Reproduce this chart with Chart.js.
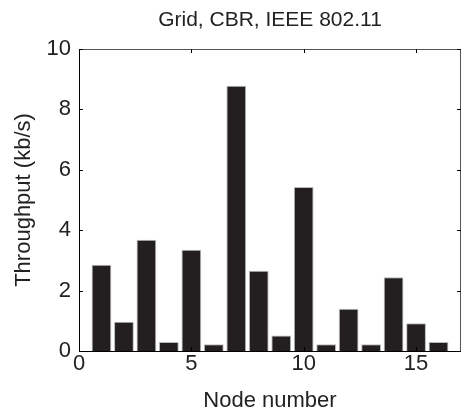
<!DOCTYPE html>
<html>
<head>
<meta charset="utf-8">
<script src="https://cdn.jsdelivr.net/npm/chart.js@4/dist/chart.umd.min.js"></script>
<style>
  html, body { margin: 0; padding: 0; background: #fff; }
  #wrap { width: 462px; height: 416px; }
</style>
</head>
<body>
<div id="wrap"><canvas id="barChart"></canvas></div>
<script>
// node ids and throughput values
const nodes = [1, 2, 3, 4, 5, 6, 7, 8, 9, 10, 11, 12, 13, 14, 15, 16];
const throughput = [2.86, 0.97, 3.68, 0.30, 3.35, 0.22, 8.78, 2.66, 0.51, 5.43, 0.22, 1.40, 0.22, 2.44, 0.92, 0.30];
const xTicks = [0, 5, 10, 15];
const yTicks = [0, 2, 4, 6, 8, 10];
const chartTitle = 'Grid, CBR, IEEE 802.11';

const FONT = 'Liberation Sans, Arial, sans-serif';

// matlab style box with inward ticks, title centred over the axes
const boxPlugin = {
    id: 'box',
    afterDraw(chart) {
        const c = chart.ctx, a = chart.chartArea;
        const xs = chart.scales.x, ys = chart.scales.y;
        c.save();
        c.lineWidth = 1;
        c.strokeStyle = '#555';
        c.beginPath();
        c.moveTo(a.left, a.top + 0.5); c.lineTo(a.right, a.top + 0.5);
        c.moveTo(a.right - 0.5, a.top); c.lineTo(a.right - 0.5, a.bottom);
        c.stroke();
        c.strokeStyle = '#000';
        c.beginPath();
        c.moveTo(a.left + 0.5, a.top); c.lineTo(a.left + 0.5, a.bottom + 0.5);
        c.lineTo(a.right, a.bottom + 0.5);
        xTicks.forEach(function (t) {
            const px = Math.round(xs.getPixelForValue(t)) + 0.5;
            c.moveTo(px, a.bottom); c.lineTo(px, a.bottom - 4);
            c.moveTo(px, a.top); c.lineTo(px, a.top + 4);
        });
        yTicks.forEach(function (t) {
            const py = Math.round(ys.getPixelForValue(t)) + 0.5;
            c.moveTo(a.left, py); c.lineTo(a.left + 4, py);
            c.moveTo(a.right, py); c.lineTo(a.right - 4, py);
        });
        c.stroke();

        c.fillStyle = '#222';
        c.font = '21px ' + FONT;
        c.textAlign = 'center';
        c.textBaseline = 'middle';
        c.fillText(chartTitle, (a.left + a.right) / 2, 20);
        c.restore();
    }
};

var ctx = document.getElementById('barChart').getContext('2d');
var myChart = new Chart(ctx, {
    type: 'bar',
    data: {
        datasets: [{
            data: nodes.map(function (n, i) { return { x: n, y: throughput[i] }; }),
            backgroundColor: '#231f20',
            borderColor: '#b8b8b8',
            borderWidth: 1,
            barPercentage: 0.88,
            categoryPercentage: 1.0
        }]
    },
    options: {
        responsive: true,
        maintainAspectRatio: false,
        animation: false,
        layout: { padding: { top: 49, right: 1, left: 0, bottom: 0 } },
        plugins: {
            legend: { display: false },
            tooltip: { enabled: false },
            title: { display: false }
        },
        scales: {
            x: {
                type: 'linear',
                min: 0,
                max: 17,
                offset: false,
                afterBuildTicks(s) { s.ticks = xTicks.map(function (v) { return { value: v }; }); },
                afterFit(s) { s.height = 65; },
                grid: { display: false, drawTicks: false },
                border: { display: false },
                ticks: { color: '#222', padding: 0, maxRotation: 0, font: { family: FONT, size: 22 } },
                title: {
                    display: true,
                    text: 'Node number',
                    color: '#222',
                    padding: { top: 0, bottom: 2 },
                    font: { family: FONT, size: 22 }
                }
            },
            y: {
                min: 0,
                max: 10,
                afterBuildTicks(s) { s.ticks = yTicks.map(function (v) { return { value: v }; }); },
                afterFit(s) { s.width = 79; },
                grid: { display: false, drawTicks: false },
                border: { display: false },
                ticks: { color: '#222', padding: 8, font: { family: FONT, size: 22 } },
                title: {
                    display: true,
                    text: 'Throughput (kb/s)',
                    color: '#222',
                    padding: { top: 11, bottom: 0 },
                    font: { family: FONT, size: 22 }
                }
            }
        }
    },
    plugins: [boxPlugin]
});
</script>
</body>
</html>
